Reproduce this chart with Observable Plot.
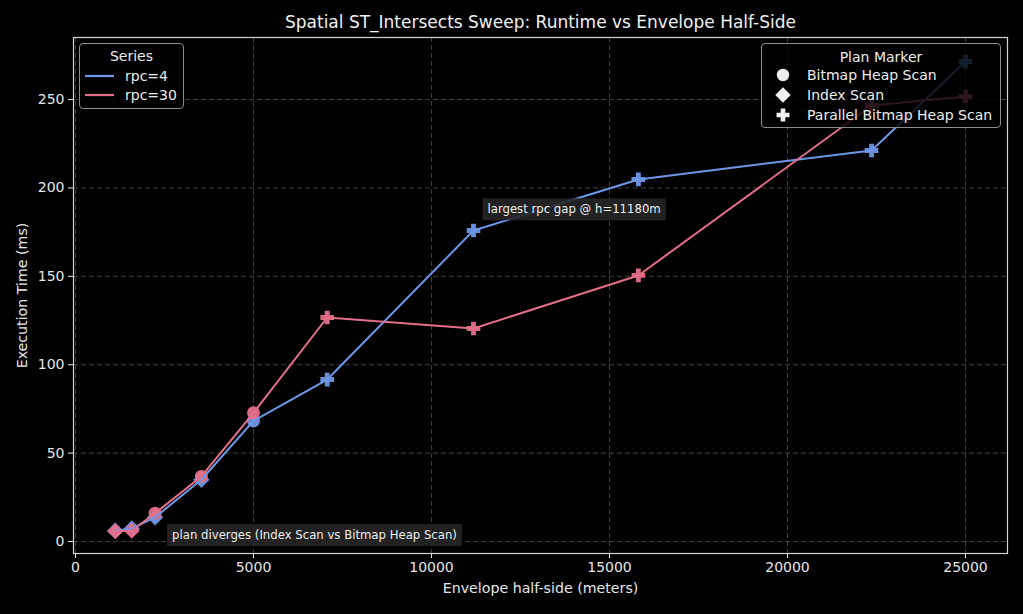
<!DOCTYPE html>
<html><head><meta charset="utf-8">
<script src="https://cdn.jsdelivr.net/npm/d3@7"></script>
<script src="https://cdn.jsdelivr.net/npm/@observablehq/plot@0.6"></script>
<style>
body{margin:0;background:#000;font-family:"DejaVu Sans",sans-serif;}
#wrap{position:relative;width:1023px;height:614px;background:#000;}
.legend{position:absolute;background:rgba(0,0,0,0.8);border:1px solid #8c8c8c;border-radius:4px;color:#ececec;font-size:14px;box-sizing:border-box;}
.legend .t{position:absolute;left:0;right:0;text-align:center;line-height:16px;}
.legend .lab{position:absolute;white-space:nowrap;line-height:16px;}
.legend svg{position:absolute;overflow:visible;}
</style></head><body><div id="wrap"></div>
<script>
// ---- data ----
const halfSide = [1118, 1581, 2236, 3536, 5000, 7071, 11180, 15811, 22361, 25000];
const rpc4Ms  = [6.1, 7.4, 13.7, 34.9, 68.2, 91.6, 175.9, 204.8, 221.2, 271.5];
const rpc30Ms = [5.8, 6.2, 16.0, 36.8, 72.8, 126.7, 120.5, 150.5, 246.6, 251.7];
const rpc4Plan  = ["Index Scan","Index Scan","Index Scan","Index Scan","Bitmap Heap Scan","Parallel Bitmap Heap Scan","Parallel Bitmap Heap Scan","Parallel Bitmap Heap Scan","Parallel Bitmap Heap Scan","Parallel Bitmap Heap Scan"];
const rpc30Plan = ["Index Scan","Index Scan","Bitmap Heap Scan","Bitmap Heap Scan","Bitmap Heap Scan","Parallel Bitmap Heap Scan","Parallel Bitmap Heap Scan","Parallel Bitmap Heap Scan","Parallel Bitmap Heap Scan","Parallel Bitmap Heap Scan"];
const seriesNames = ["rpc=4", "rpc=30"];
const seriesColors = ["#6d97e8", "#e46f88"];
const planNames = ["Bitmap Heap Scan", "Index Scan", "Parallel Bitmap Heap Scan"];
const xTicks = [0, 5000, 10000, 15000, 20000, 25000];
const yTicks = [0, 50, 100, 150, 200, 250];
const annotationText = ["plan diverges (Index Scan vs Bitmap Heap Scan)", "largest rpc gap @ h=11180m"];
const annotationH = [2236, 11180];
const annotationMs = [16.0, 175.9];
const titleText = "Spatial ST_Intersects Sweep: Runtime vs Envelope Half-Side";
const xLabel = "Envelope half-side (meters)";
const yLabel = "Execution Time (ms)";

// ---- rows ----
const rows = [];
halfSide.forEach((h, i) => rows.push({h, ms: rpc4Ms[i], series: "rpc=4", plan: rpc4Plan[i]}));
halfSide.forEach((h, i) => rows.push({h, ms: rpc30Ms[i], series: "rpc=30", plan: rpc30Plan[i]}));
const ann = annotationText.map((text, i) => ({text, h: annotationH[i], ms: annotationMs[i]}));

// ---- custom symbols (matplotlib-like) ----
const diamondSym = {draw(c, size) { const r = Math.sqrt(size / Math.PI) * 1.25;
  c.moveTo(0, -r); c.lineTo(r, 0); c.lineTo(0, r); c.lineTo(-r, 0); c.closePath(); }};
const plusSym = {draw(c, size) { const r = Math.sqrt(size / Math.PI) * 1.05, t = r / 2.8;
  c.moveTo(-t, -r); c.lineTo(t, -r); c.lineTo(t, -t); c.lineTo(r, -t); c.lineTo(r, t); c.lineTo(t, t);
  c.lineTo(t, r); c.lineTo(-t, r); c.lineTo(-t, t); c.lineTo(-r, t); c.lineTo(-r, -t); c.lineTo(-t, -t); c.closePath(); }};
const planSymbols = [d3.symbolCircle, diamondSym, plusSym];

const fontFam = "DejaVu Sans";
const plot = Plot.plot({
  width: 1023, height: 614,
  marginLeft: 73, marginRight: 16, marginTop: 37, marginBottom: 61,
  style: {background: "#000", color: "#e6e6e6", fontFamily: fontFam, fontSize: "14px"},
  x: {domain: [-56, 26180]},
  y: {domain: [-6.8, 285.1]},
  color: {domain: seriesNames, range: seriesColors},
  symbol: {domain: planNames, range: planSymbols},
  marks: [
    Plot.gridX(xTicks, {stroke: "#9a9a9a", strokeOpacity: 0.45, strokeDasharray: "5,3", strokeWidth: 0.9}),
    Plot.gridY(yTicks, {stroke: "#9a9a9a", strokeOpacity: 0.45, strokeDasharray: "5,3", strokeWidth: 0.9}),
    Plot.axisX({ticks: xTicks, tickFormat: d => String(d), tickSize: 5, tickPadding: 4, label: null, fontSize: 14, color: "#e6e6e6"}),
    Plot.axisY({ticks: yTicks, tickFormat: d => String(d), tickSize: 5, tickPadding: 4, label: null, fontSize: 14, color: "#e6e6e6"}),
    Plot.dot(rows, {x: "h", y: "ms", fill: "series", symbol: "plan", r: 6.5, fillOpacity: 0.95}),
    Plot.line(rows, {x: "h", y: "ms", stroke: "series", z: "series", strokeWidth: 2}),
    Plot.text([ann[0]], {x: "h", y: "ms", text: "text", dx: 17, dy: 22, textAnchor: "start", lineAnchor: "middle", fill: "#ececec", fontSize: 11.7}),
    Plot.text([ann[1]], {x: "h", y: "ms", text: "text", dx: 14, dy: -21, textAnchor: "start", lineAnchor: "middle", fill: "#ececec", fontSize: 11.7}),
    Plot.frame({stroke: "#d4d4d4", strokeWidth: 1.2}),
    Plot.text([titleText], {text: d => d, frameAnchor: "top", lineAnchor: "middle", textAnchor: "middle", dy: -15, fontSize: 17, fill: "#f0f0f0"}),
    Plot.text([xLabel], {text: d => d, frameAnchor: "bottom", lineAnchor: "middle", textAnchor: "middle", dy: 35, fontSize: 14.2, fill: "#e6e6e6"}),
    Plot.text([yLabel], {text: d => d, frameAnchor: "left", lineAnchor: "middle", textAnchor: "middle", dx: -51, rotate: -90, fontSize: 14.2, fill: "#e6e6e6"})
  ]
});
document.getElementById("wrap").appendChild(plot);

// add background boxes behind annotation texts
plot.querySelectorAll("text").forEach(t => {
  if (!annotationText.includes(t.textContent)) return;
  const bb = t.getBBox();
  const r = document.createElementNS("http://www.w3.org/2000/svg", "rect");
  const tr = t.getAttribute("transform");
  if (tr) r.setAttribute("transform", tr);
  r.setAttribute("x", bb.x - 5); r.setAttribute("y", bb.y - 4);
  r.setAttribute("width", bb.width + 10); r.setAttribute("height", bb.height + 8);
  r.setAttribute("fill", "#262626"); r.setAttribute("fill-opacity", 0.9);
  t.parentNode.insertBefore(r, t);
});

// ---- legends (HTML overlays) ----
const wrap = document.getElementById("wrap");
function el(tag, cls, parent, styles) { const e = document.createElement(tag); if (cls) e.className = cls; Object.assign(e.style, styles || {}); parent.appendChild(e); return e; }
const lg1 = el("div", "legend", wrap, {left: "79px", top: "43px", width: "105px", height: "66px"});
el("div", "t", lg1, {top: "4px"}).textContent = "Series";
seriesNames.forEach((s, i) => {
  const sv = document.createElementNS("http://www.w3.org/2000/svg", "svg");
  sv.setAttribute("width", 30); sv.setAttribute("height", 4);
  Object.assign(sv.style, {left: "5px", top: (30 + i * 19) + "px"});
  sv.innerHTML = `<line x1="0" x2="29" y1="2" y2="2" stroke="${seriesColors[i]}" stroke-width="2.2"/>`;
  lg1.appendChild(sv);
  const l = el("div", "lab", lg1, {left: "45px", top: (24 + i * 19) + "px"}); l.textContent = s;
});
const lg2 = el("div", "legend", wrap, {left: "761px", top: "43px", width: "240px", height: "85px"});
el("div", "t", lg2, {top: "5px"}).textContent = "Plan Marker";
planNames.forEach((p, i) => {
  const sv = document.createElementNS("http://www.w3.org/2000/svg", "svg");
  sv.setAttribute("width", 20); sv.setAttribute("height", 20);
  Object.assign(sv.style, {left: "11px", top: (21 + i * 20) + "px"});
  const path = d3.symbol(planSymbols[i], Math.PI * 6.2 * 6.2)();
  sv.innerHTML = `<path transform="translate(10,10)" d="${path}" fill="#f0f0f0"/>`;
  lg2.appendChild(sv);
  const l = el("div", "lab", lg2, {left: "45px", top: (23 + i * 20) + "px"}); l.textContent = p;
});
</script></body></html>
